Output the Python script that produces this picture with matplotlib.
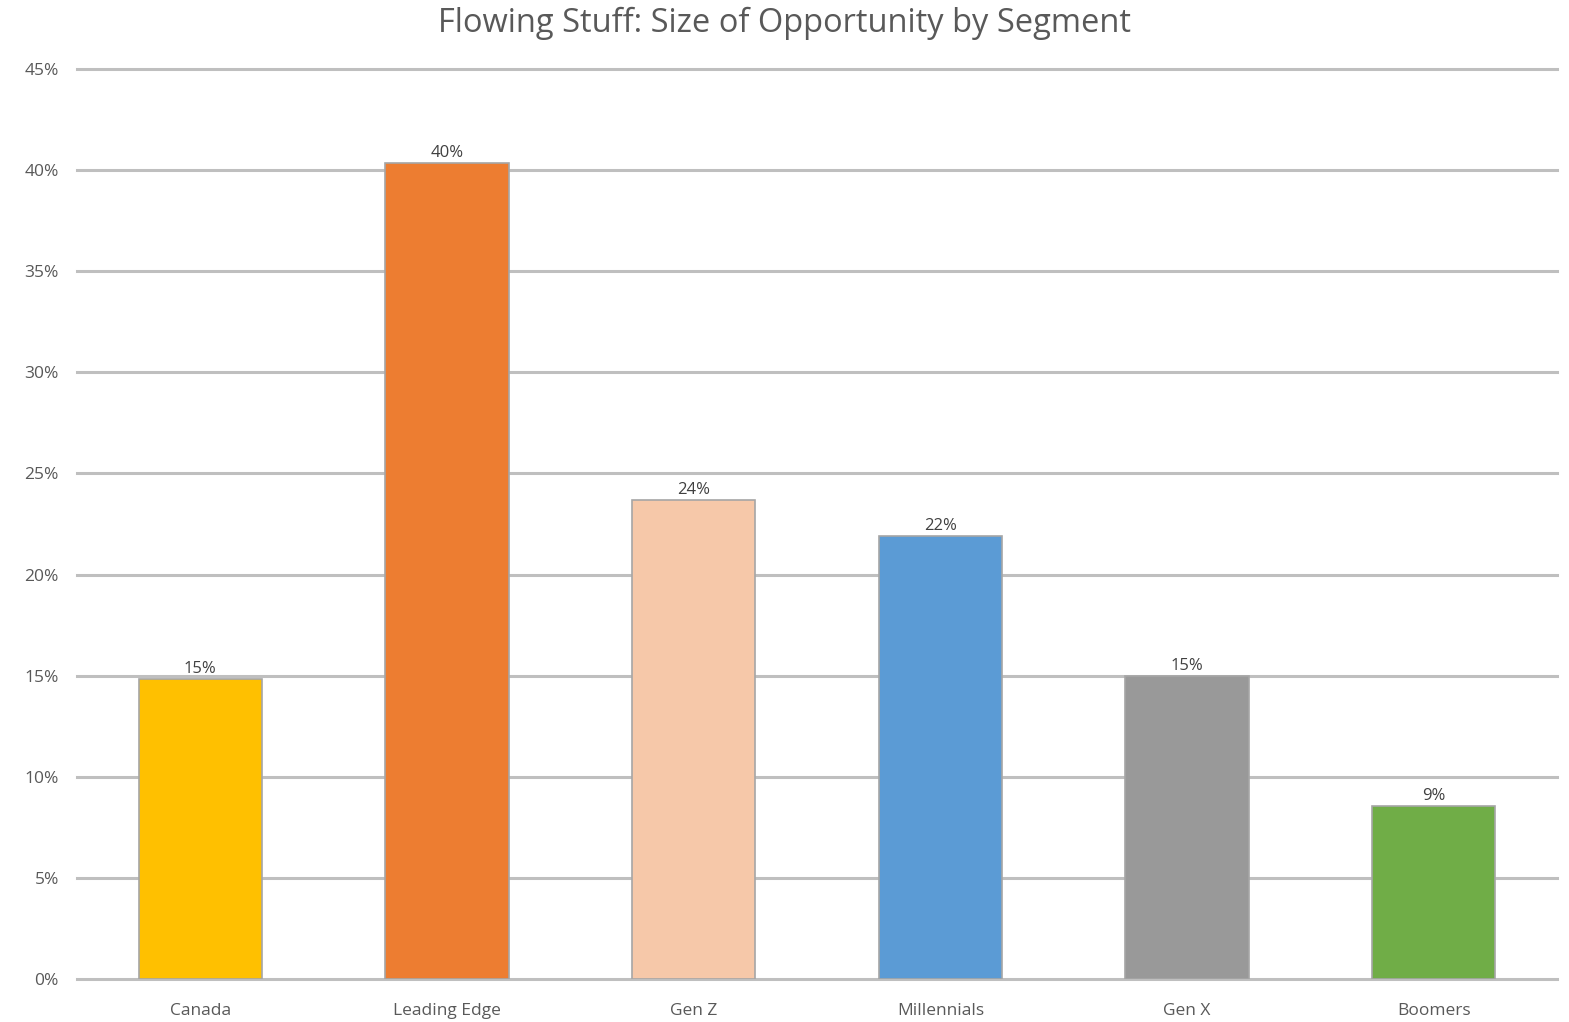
import matplotlib
matplotlib.use('Agg')
import matplotlib.pyplot as plt
from matplotlib.ticker import PercentFormatter

# data
segments = ["Canada", "Leading Edge", "Gen Z", "Millennials", "Gen X", "Boomers"]
share = [0.1485, 0.4035, 0.2370, 0.2190, 0.1500, 0.0855]
bar_colors = ["#FFC000", "#ED7D31", "#F6C8A9", "#5B9BD5", "#999999", "#70AD47"]

plt.rcParams['font.family'] = ['Open Sans', 'DejaVu Sans']
txt = "#595959"

fig = plt.figure(figsize=(15.69, 10.22), dpi=100)
ax = fig.add_axes([0.0491, 0.0421, 0.9433, 0.8904])

x = range(len(segments))
bars = ax.bar(x, share, width=0.5, color=bar_colors, edgecolor="#A6A6A6",
              linewidth=1.2, zorder=3)

for b, v in zip(bars, share):
    ax.text(b.get_x() + b.get_width() / 2, v + 0.001, "{:.0%}".format(v),
            ha="center", va="bottom", fontsize=12, color="#404040", zorder=4)

ax.set_xlim(-0.5, 5.5)
ax.set_ylim(0, 0.45)
ax.set_yticks([i * 0.05 for i in range(10)])
ax.yaxis.set_major_formatter(PercentFormatter(1.0, decimals=0))
ax.set_xticks(list(x))
ax.set_xticklabels(segments)
ax.tick_params(axis="both", length=0, labelsize=12.5, colors=txt)
ax.tick_params(axis="y", pad=13)
ax.tick_params(axis="x", pad=17)

ax.grid(axis="y", color="#BFBFBF", linewidth=2.2, zorder=0)
for gl in ax.get_ygridlines():
    gl.set_clip_on(False)
for s in ax.spines.values():
    s.set_visible(False)

fig.suptitle("Flowing Stuff: Size of Opportunity by Segment", y=0.993,
             fontsize=23.5, color=txt)

fig.savefig("out.png", dpi=100)
